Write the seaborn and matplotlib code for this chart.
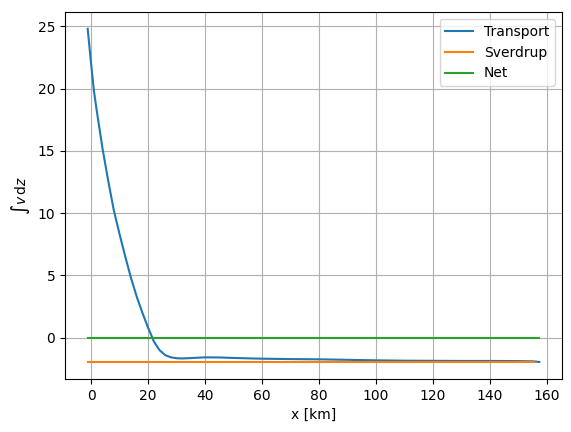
"""
Depth-integrated transport vs. Sverdrup balance across the section.
Saves out.png.
"""
import matplotlib

matplotlib.use("Agg")
import matplotlib.pyplot as plt
import pandas as pd
import seaborn as sns

PALETTE = sns.color_palette("tab10")

# Transport (integral of v over depth) read along the section
x_km = [-1.2, 0, 1, 2, 4, 6, 8, 10, 12, 14, 16, 18, 20, 21.5, 22, 24, 26, 28,
        30, 32, 35, 40, 45, 50, 60, 70, 80, 90, 100, 110, 120, 130, 140, 150,
        155, 157.3]
transport = [24.8, 22.0, 19.8, 18.2, 15.2, 12.6, 10.2, 8.3, 6.5, 4.8, 3.3, 2.0,
             0.8, 0.0, -0.3, -1.0, -1.4, -1.58, -1.65, -1.67, -1.64, -1.58,
             -1.59, -1.63, -1.69, -1.72, -1.74, -1.78, -1.82, -1.85, -1.86,
             -1.87, -1.87, -1.88, -1.90, -1.95]

# Sverdrup transport (constant) and net
sverdrup_x = [-1.2, 155.5]
sverdrup = [-1.97, -1.97]
net_x = [-1.2, 157.3]
net = [0.0, 0.0]


def main():
    fig, ax = plt.subplots(figsize=(5.71, 4.32), dpi=100)
    fig.subplots_adjust(left=0.114, right=0.984, top=0.972, bottom=0.123)

    sns.lineplot(x=x_km, y=transport, ax=ax, color=PALETTE[0], label="Transport",
                 linewidth=1.5, sort=False)
    sns.lineplot(x=sverdrup_x, y=sverdrup, ax=ax, color=PALETTE[1], label="Sverdrup",
                 linewidth=1.5, sort=False)
    sns.lineplot(x=net_x, y=net, ax=ax, color=PALETTE[2], label="Net",
                 linewidth=1.5, sort=False)

    ax.set_xlabel("x [km]")
    ax.set_ylabel(r"$\int v\,\mathrm{d}z$")
    ax.grid(True)
    ax.legend(loc="upper right")

    fig.savefig("out.png", dpi=100)
    plt.close(fig)


if __name__ == "__main__":
    main()
